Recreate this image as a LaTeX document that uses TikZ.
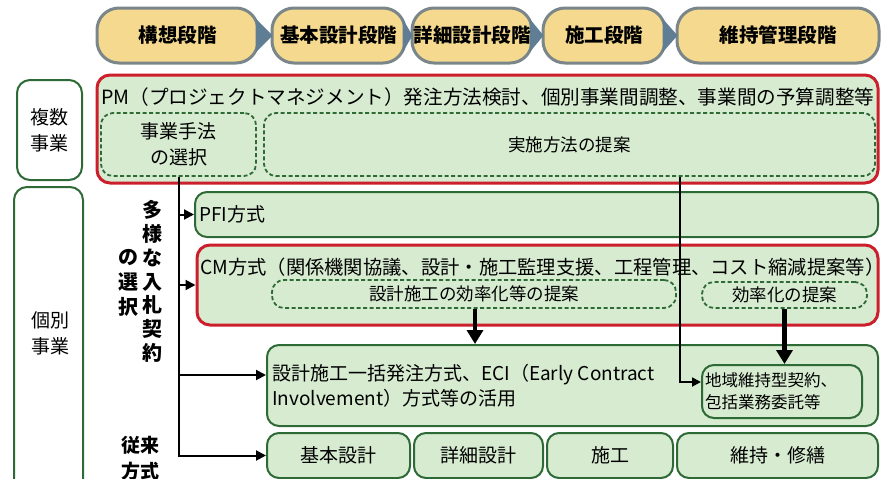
\documentclass[tikz,border=0pt]{standalone}
\usepackage{fontspec}
\setmainfont{Noto Sans CJK JP}
\usetikzlibrary{arrows.meta,fit}
\definecolor{lgreen}{HTML}{D6EBD0}
\definecolor{dgreen}{HTML}{2E6A36}
\definecolor{pmred}{HTML}{CC1F2B}
\definecolor{stagefill}{HTML}{F4D98F}
\definecolor{stageline}{HTML}{7A8689}
\definecolor{chev}{HTML}{5F7E94}
\begin{document}
\begin{tikzpicture}[x=1pt,y=-1pt,
  stagebox/.style={draw=stageline, line width=3pt, fill=stagefill, rounded corners=22pt, inner sep=0pt},
  gbox/.style={draw=dgreen, line width=2pt, fill=lgreen, rounded corners=12pt, inner sep=0pt},
  wbox/.style={draw=dgreen, line width=2pt, fill=white, rounded corners=13pt, inner sep=0pt},
  rbox/.style={draw=pmred, line width=3pt, fill=lgreen, rounded corners=13pt, inner sep=0pt},
  dbox/.style={draw=dgreen, line width=1.8pt, dash pattern=on 4pt off 2.5pt, fill=lgreen, rounded corners=12pt, inner sep=0pt},
  chevron/.style={fill=chev, draw=none},
  txt/.style={inner sep=0pt, align=center, font=\fontsize{19}{26}\selectfont},
  ltxt/.style={inner sep=0pt, anchor=west, align=left, font=\fontsize{19}{25}\selectfont},
  stxt/.style={inner sep=0pt, align=center, font=\fontsize{17.5}{22}\selectfont},
  stagetxt/.style={inner sep=0pt, font=\fontsize{19.5}{22}\selectfont\bfseries},
  vtxt/.style={inner sep=0pt, align=center, font=\fontsize{20}{23.8}\selectfont\bfseries},
  conn/.style={line width=2pt, -{Triangle[length=10pt,width=10pt]}},
  thinconn/.style={line width=1.8pt, -{Triangle[length=9pt,width=9pt]}},
  bigconn/.style={line width=4.5pt, -{Triangle[length=14pt,width=16pt]}}
]
\clip (0,0) rectangle (881,479);
\fill[white] (0,0) rectangle (881,479);

% stage boxes
\node[stagebox, fit={(97,8) (258,63)}] (s1) {};
\node[stagebox, fit={(272,8) (405,63)}] (s2) {};
\node[stagebox, fit={(412,8) (532,63)}] (s3) {};
\node[stagebox, fit={(543,8) (665,63)}] (s4) {};
\node[stagebox, fit={(677,8) (879,63)}] (s5) {};
\fill[chevron] ([xshift=-4pt,yshift=-17pt]s1.east) -- ([xshift=2pt]s2.west) -- ([xshift=-4pt,yshift=17pt]s1.east) -- cycle;
\fill[chevron] ([xshift=-4pt,yshift=-17pt]s2.east) -- ([xshift=2pt]s3.west) -- ([xshift=-4pt,yshift=17pt]s2.east) -- cycle;
\fill[chevron] ([xshift=-4pt,yshift=-17pt]s3.east) -- ([xshift=2pt]s4.west) -- ([xshift=-4pt,yshift=17pt]s3.east) -- cycle;
\fill[chevron] ([xshift=-4pt,yshift=-17pt]s4.east) -- ([xshift=2pt]s5.west) -- ([xshift=-4pt,yshift=17pt]s4.east) -- cycle;
\node[stagetxt] (s1t) at (s1) {構想段階};
\node[stagetxt] (s2t) at (s2) {基本設計段階};
\node[stagetxt] (s3t) at (s3) {詳細設計段階};
\node[stagetxt] (s4t) at (s4) {施工段階};
\node[stagetxt] (s5t) at (s5) {維持管理段階};

% left category boxes
\node[wbox, fit={(17,80) (82,180)}] (multi) {};
\node[txt] (multit) at (multi) {複数\\事業};
\node[wbox, fit={(14,187) (83,495)}] (indiv) {};
\node[txt] (indivt) at (50,333) {個別\\事業};

% PM box
\node[rbox, fit={(97,75) (878,183)}] (pm) {};
\node[ltxt, font=\fontsize{19.6}{25}\selectfont] (pmt) at (101,97) {PM（プロジェクトマネジメント）発注方法検討、個別事業間調整、事業間の予算調整等};
\node[dbox, fit={(101,113) (256,176)}] (sel) {};
\node[txt] (selt) at (sel) {事業手法\\の選択};
\node[dbox, fit={(264,113) (875,176)}] (jisshi) {};
\node[stxt] (jisshit) at (jisshi) {実施方法の提案};

% vertical labels
\node[vtxt] (tayo) at (152,281.5) {多\\様\\な\\入\\札\\契\\約};
\node[vtxt, font=\fontsize{20}{25}\selectfont\bfseries] (nosen) at (128,283) {の\\選\\択};
\node[vtxt, font=\fontsize{19}{26}\selectfont\bfseries] (juurai) at (140,458) {従来\\方式};

% individual methods
\node[gbox, fit={(195,192) (878,237)}] (pfi) {};
\node[ltxt] (pfit) at (199,214) {PFI方式};
\node[rbox, fit={(197,245) (878,325)}] (cm) {};
\node[ltxt, font=\fontsize{19.3}{25}\selectfont] (cmt) at (200,267) {CM方式（関係機関協議、設計・施工監理支援、工程管理、コスト縮減提案等）};
\node[dbox, fit={(272,280) (676,308)}] (kou1) {};
\node[stxt] (kou1t) at (kou1) {設計施工の効率化等の提案};
\node[dbox, fit={(702,282) (867,308)}] (kou2) {};
\node[stxt] (kou2t) at (kou2) {効率化の提案};

\node[gbox, fit={(267,345) (878,426)}] (big) {};
\node[ltxt] (bigt) at (272,385.5) {設計施工一括発注方式、ECI（Early Contract\\Involvement）方式等の活用};
\node[gbox, fit={(702,365) (862,418)}] (chiiki) {};
\node[ltxt, font=\fontsize{16.5}{22}\selectfont] (chiikit) at (705,391.5) {地域維持型契約、\\包括業務委託等};

\node[gbox, fit={(267,433) (410,478)}] (b1) {};
\node[txt] (b1t) at (b1) {基本設計};
\node[gbox, fit={(414,433) (543,478)}] (b2) {};
\node[txt] (b2t) at (b2) {詳細設計};
\node[gbox, fit={(547,433) (673,478)}] (b3) {};
\node[txt] (b3t) at (b3) {施工};
\node[gbox, fit={(677,433) (878,478)}] (b4) {};
\node[txt] (b4t) at (b4) {維持・修繕};

% connectors
\coordinate (vend) at (179,457);
\coordinate (a3) at (179,375);
\coordinate (t0) at (680,382);
\coordinate (k1) at (475,0);
\draw[line width=2pt] (sel.south) -- (sel.south |- vend);
\draw[conn] (sel.south |- pfi.west) -- (pfi.west);
\draw[conn] (sel.south |- cm.west) -- (cm.west);
\draw[conn] (sel.south |- a3) -- (a3 -| big.west);
\draw[conn] (sel.south |- b1.west) -- (b1.west);
\draw[thinconn] (jisshi.south -| t0) -- (t0) -- (t0 -| chiiki.west);
\draw[bigconn] (kou1.south -| k1) -- (big.north -| k1);
\draw[bigconn] (kou2.south) -- (chiiki.north -| kou2.south);
\end{tikzpicture}
\end{document}
